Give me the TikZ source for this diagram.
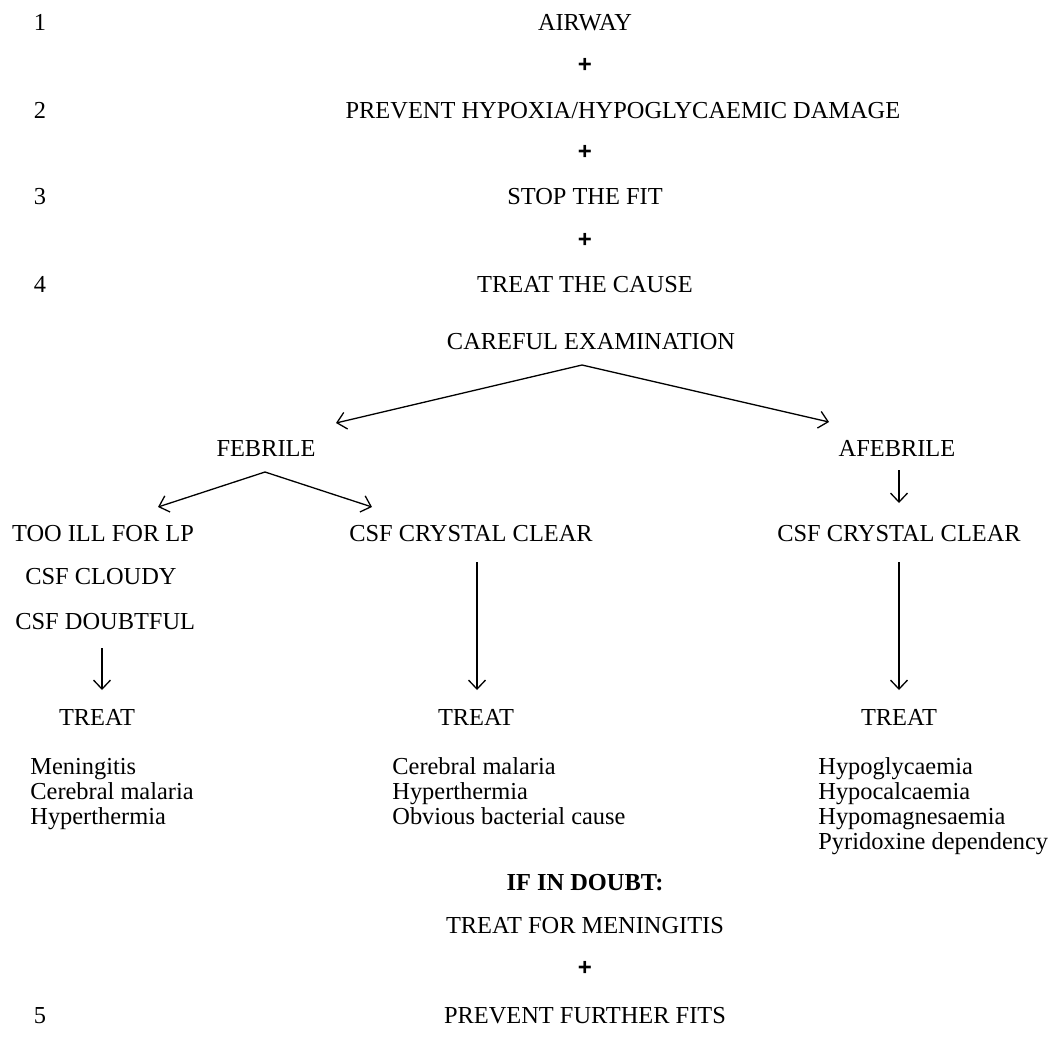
\documentclass[tikz,border=0pt]{standalone}
\usepackage{fontspec}
\setmainfont{Liberation Serif}
\newfontfamily\plusfont{Liberation Sans}
\usetikzlibrary{positioning, arrows.meta}

\tikzset{
    txt/.style={anchor=base, inner sep=0pt, font=\fontsize{12.2}{14}\selectfont},
    lefttxt/.style={txt, anchor=base west},
    plus/.style={anchor=center, inner sep=0pt, font=\plusfont\bfseries\fontsize{12}{14}\selectfont},
    arr/.style={-{Straight Barb[length=4.5pt,width=8.5pt]}, line width=0.65pt},
}

\begin{document}
\begin{tikzpicture}[x=0.5pt, y=-0.5pt]
        \useasboundingbox (0,0) rectangle (1058,1061);

        % numbered steps
        \node[txt] (num1) at (40,30) {1};
        \node[txt] (num2) at (40,118) {2};
        \node[txt] (num3) at (40,204) {3};
        \node[txt] (num4) at (40,292) {4};
        \node[txt] (num5) at (40,1023) {5};

        \node[txt] (airway) at (585,30) {AIRWAY};
        \node[txt] (hypoxia) at (623,118) {PREVENT HYPOXIA/HYPOGLYCAEMIC DAMAGE};
        \node[txt] (stopfit) at (585,204) {STOP THE FIT};
        \node[txt] (cause) at (585,292) {TREAT THE CAUSE};
        \node[txt] (exam) at (591,349) {CAREFUL EXAMINATION};

        \foreach \y [count=\i] in {65,152,240,968}
        {
                \node[plus] (plus\i) at (585,\y) {+};
        }

        % first split
        \coordinate (examtop) at (582,365);
        \coordinate (febtip) at (336,423);
        \coordinate (afebtip) at (829,422);
        \draw[arr] (examtop) -- (febtip);
        \draw[arr] (examtop) -- (afebtip);

        \node[txt] (febrile) at (266,456) {FEBRILE};
        \node[txt] (afebrile) at (897,456) {AFEBRILE};

        % second split
        \coordinate (febtop) at (265,472);
        \coordinate (illtip) at (158,507);
        \coordinate (cleartip) at (372,507);
        \coordinate (afebtop) at (899,470);
        \coordinate (afebclear) at (899,503);
        \draw[arr] (febtop) -- (illtip);
        \draw[arr] (febtop) -- (cleartip);
        \draw[arr] (afebtop) -- (afebclear);

        \node[txt] (tooill) at (103,541) {TOO ILL FOR LP};
        \node[txt] (clearmid) at (471,541) {CSF CRYSTAL CLEAR};
        \node[txt] (clearright) at (899,541) {CSF CRYSTAL CLEAR};
        \node[lefttxt] (cloudy) at (25,584) {CSF CLOUDY};
        \node[lefttxt] (doubtful) at (15,629) {CSF DOUBTFUL};

        % down to treatment
        \node[txt] (treatleft) at (97,725) {TREAT};
        \node[txt] (treatmid) at (476,725) {TREAT};
        \node[txt] (treatright) at (899,725) {TREAT};
        \coordinate (leftstart) at (102,648);
        \coordinate (leftend) at (102,690);
        \coordinate (midstart) at (477,562);
        \coordinate (midend) at (477,690);
        \coordinate (rightstart) at (899,562);
        \coordinate (rightend) at (899,690);
        \draw[arr] (leftstart) -- (leftend);
        \draw[arr] (midstart) -- (midend);
        \draw[arr] (rightstart) -- (rightend);

        % lists
        \foreach \t [count=\i] in {Meningitis, Cerebral malaria, Hyperthermia}
        {
                \node[lefttxt] (listleft\i) at (30, 749 + 25*\i) {\t};
        }
        \foreach \t [count=\i] in {Cerebral malaria, Hyperthermia, Obvious bacterial cause}
        {
                \node[lefttxt] (listmid\i) at (392, 749 + 25*\i) {\t};
        }
        \foreach \t [count=\i] in {Hypoglycaemia, Hypocalcaemia, Hypomagnesaemia, Pyridoxine dependency}
        {
                \node[lefttxt] (listright\i) at (818, 749 + 25*\i) {\t};
        }

        % bottom
        \node[txt, font=\bfseries\fontsize{12.2}{14}\selectfont] (doubt) at (585,890) {IF IN DOUBT:};
        \node[txt] (meningitis) at (585,933) {TREAT FOR MENINGITIS};
        \node[txt] (furtherfits) at (585,1023) {PREVENT FURTHER FITS};
    \end{tikzpicture}
\end{document}
